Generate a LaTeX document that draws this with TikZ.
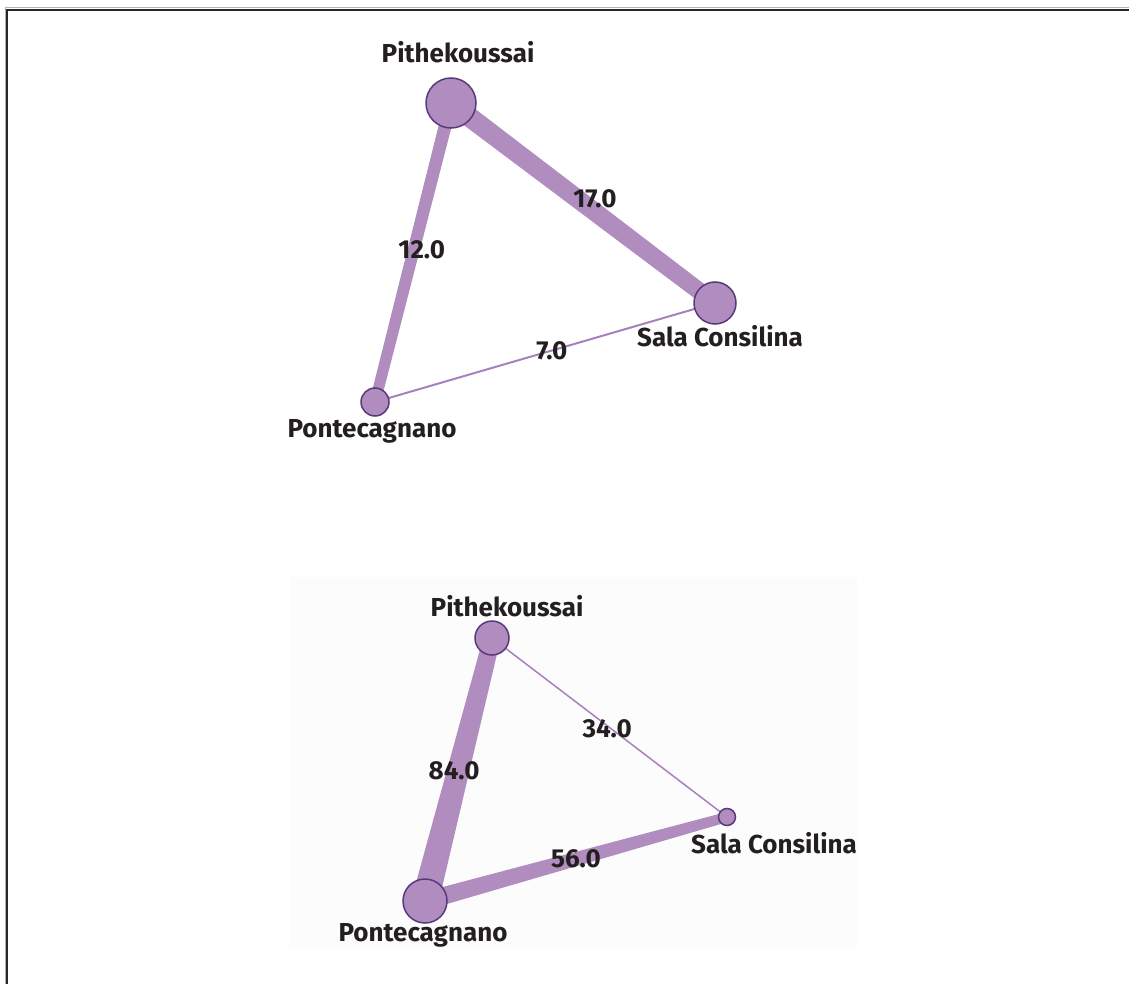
\documentclass[tikz,border=0pt]{standalone}
\usepackage{fontspec}
\setsansfont{Fira Sans}
\usepackage{tikz}
\usetikzlibrary{calc,positioning}
\usepackage{xcolor}
\definecolor{sitefill}{RGB}{176,141,190}
\definecolor{sitedraw}{RGB}{88,58,124}
\definecolor{linkcol}{RGB}{176,141,190}
\definecolor{thincol}{RGB}{168,128,190}
\definecolor{textcol}{RGB}{35,31,32}
\pgfdeclarelayer{bg}
\pgfdeclarelayer{edges}
\pgfsetlayers{bg,edges,main}

\tikzset{
  site/.style={draw=sitedraw, circle, fill=sitefill, line width=1.5, inner sep=0pt},
  sitename/.style={font=\sffamily\bfseries\fontsize{26}{30}\selectfont, text=textcol, anchor=base, inner sep=0pt},
  wlbl/.style={font=\sffamily\bfseries\fontsize{26}{30}\selectfont, text=textcol, inner sep=0pt}
}
% link that tapers from half-width #3 at #1 to half-width #4 at #2
\newcommand{\taperlink}[4]{%
  \fill[linkcol] ($(#1.center)!#3!90:(#2.center)$) -- ($(#1.center)!#3!-90:(#2.center)$)
    -- ($(#2.center)!#4!90:(#1.center)$) -- ($(#2.center)!#4!-90:(#1.center)$) -- cycle;}

\begin{document}
\begin{tikzpicture}[x=1pt, y=-1pt]
  \useasboundingbox (0,0) rectangle (1129,984);
  % frame
  \draw[line width=1, black!30] (5,8) rectangle (1200,1100);
  \draw[line width=2, black!85] (7,10) rectangle (1200,1100);

  % top network
  \node[site, minimum size=50] (pith1) at (451,103) {};
  \node[site, minimum size=42] (sala1) at (715,303) {};
  \node[site, minimum size=28] (ponte1) at (375,402) {};
  \node[sitename] (pith1-n) at (458,63) {Pithekoussai};
  \node[sitename] (sala1-n) at (720,346) {Sala Consilina};
  \node[sitename] (ponte1-n) at (372,437) {Pontecagnano};

  % bottom network
  \node[site, minimum size=34] (pith2) at (492,638) {};
  \node[site, minimum size=17] (sala2) at (727,817) {};
  \node[site, minimum size=44] (ponte2) at (425,901) {};
  \node[sitename] (pith2-n) at (507,616) {Pithekoussai};
  \node[sitename] (sala2-n) at (774,853) {Sala Consilina};
  \node[sitename] (ponte2-n) at (423,941) {Pontecagnano};

  \begin{pgfonlayer}{bg}
    \fill[black!1] (290,577) rectangle (857,948);
  \end{pgfonlayer}

  \begin{pgfonlayer}{edges}
    % top links
    \taperlink{pith1}{sala1}{10pt}{8.5pt}
    \taperlink{pith1}{ponte1}{6.5pt}{5.5pt}
    \draw[thincol, line width=2] (ponte1.center) -- (sala1.center) node[wlbl, pos=0.52]{7.0};
    \path (pith1.center) -- (sala1.center) node[wlbl, pos=0.545, yshift=13]{17.0};
    \path (pith1.center) -- (ponte1.center) node[wlbl, pos=0.49, xshift=8]{12.0};
    % bottom links
    \taperlink{pith2}{ponte2}{8.5pt}{13.5pt}
    \taperlink{ponte2}{sala2}{9pt}{5pt}
    \draw[thincol, line width=1.5] (pith2.center) -- (sala2.center) node[wlbl, pos=0.49, yshift=-3]{34.0};
    \path (pith2.center) -- (ponte2.center) node[wlbl, pos=0.506, xshift=-4]{84.0};
    \path (ponte2.center) -- (sala2.center) node[wlbl, pos=0.5]{56.0};
  \end{pgfonlayer}
\end{tikzpicture}
\end{document}
